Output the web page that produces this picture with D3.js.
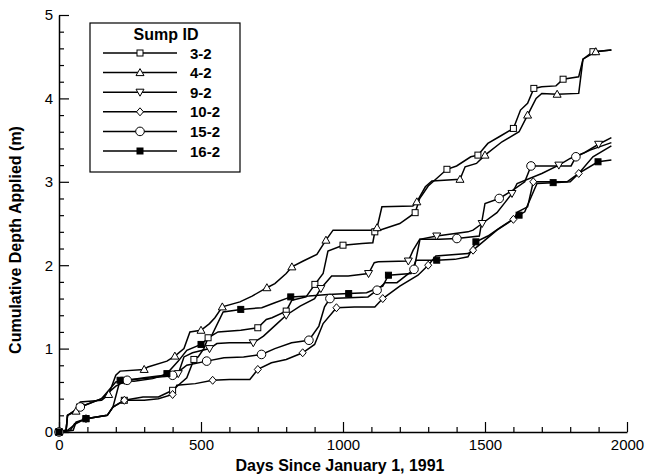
<!DOCTYPE html>
<html><head><meta charset="utf-8">
<script src="https://cdn.jsdelivr.net/npm/d3@7"></script>
<style>body{margin:0;background:#fff}svg{display:block}text{font-family:"Liberation Sans",Arial,sans-serif}</style>
</head><body><svg id="c" width="645" height="475"></svg>
<script>
const seriesNames = ["3-2","4-2","9-2","10-2","15-2","16-2"];
const markerTypes = ["square","triangle","triangleDown","diamond","circle","filledSquare"];
const xTicks = [0,500,1000,1500,2000];
const yTicks = [0,1,2,3,4,5];
const s32 = [[0,0],[40,0.02],[55,0.1],[95,0.16],[170,0.2],[190,0.3],[230,0.38],[296,0.42],[350,0.42],[400,0.5],[420,0.56],[450,0.65],[475,0.87],[490,0.9],[510,1.0],[525,1.13],[560,1.2],[640,1.22],[700,1.25],[730,1.35],[750,1.37],[800,1.45],[820,1.58],[870,1.62],[901,1.77],[930,1.9],[947,2.17],[1000,2.24],[1067,2.26],[1105,2.27],[1112,2.4],[1155,2.45],[1200,2.5],[1254,2.63],[1270,2.8],[1300,2.95],[1366,3.15],[1400,3.19],[1450,3.3],[1475,3.32],[1510,3.46],[1550,3.54],[1600,3.64],[1625,3.86],[1650,3.94],[1672,4.12],[1700,4.14],[1750,4.15],[1775,4.23],[1830,4.26],[1845,4.47],[1880,4.56],[1945,4.58]];
const s42 = [[0,0],[25,0.02],[30,0.2],[60,0.25],[75,0.36],[150,0.38],[175,0.45],[200,0.68],[215,0.73],[300,0.75],[313,0.78],[380,0.85],[408,0.91],[440,1.0],[461,1.2],[500,1.22],[530,1.3],[549,1.37],[575,1.5],[637,1.56],[680,1.63],[732,1.73],[760,1.78],[800,1.9],[820,1.98],[860,2.05],[908,2.13],[940,2.3],[965,2.42],[1098,2.42],[1120,2.45],[1137,2.70],[1246,2.71],[1260,2.76],[1290,2.94],[1313,3.01],[1412,3.03],[1430,3.18],[1470,3.22],[1500,3.32],[1560,3.48],[1620,3.6],[1650,3.8],[1680,4.0],[1700,4.06],[1754,4.05],[1830,4.06],[1845,4.47],[1890,4.56],[1945,4.58]];
const s92 = [[0,0],[25,0.02],[30,0.2],[75,0.3],[150,0.4],[200,0.6],[230,0.62],[330,0.65],[387,0.67],[420,0.7],[440,0.9],[470,0.95],[530,1.0],[556,1.06],[600,1.07],[684,1.07],[720,1.15],[768,1.3],[800,1.4],[849,1.51],[900,1.6],[922,1.72],[960,1.87],[1018,1.87],[1090,1.9],[1110,2.03],[1124,2.04],[1230,2.05],[1247,2.18],[1270,2.31],[1330,2.35],[1440,2.4],[1458,2.42],[1490,2.5],[1542,2.63],[1570,2.75],[1595,2.86],[1613,2.98],[1700,3.1],[1760,3.2],[1800,3.28],[1850,3.35],[1900,3.45],[1945,3.53]];
const s102 = [[0,0],[50,0.02],[60,0.12],[95,0.16],[170,0.2],[190,0.3],[230,0.38],[300,0.38],[350,0.4],[400,0.45],[415,0.56],[480,0.58],[541,0.62],[600,0.63],[672,0.63],[700,0.75],[748,0.83],[800,0.87],[858,0.95],[900,1.05],[930,1.3],[977,1.49],[1040,1.5],[1112,1.5],[1140,1.6],[1200,1.75],[1264,1.88],[1300,2.0],[1327,2.11],[1440,2.14],[1458,2.18],[1500,2.3],[1542,2.42],[1600,2.55],[1616,2.64],[1650,2.7],[1670,3.0],[1730,3.0],[1789,3.0],[1830,3.1],[1880,3.3],[1945,3.43]];
const s152 = [[0,0],[25,0.02],[30,0.2],[75,0.3],[150,0.4],[200,0.55],[240,0.62],[300,0.65],[349,0.67],[400,0.68],[420,0.72],[450,0.8],[520,0.85],[581,0.89],[650,0.9],[713,0.93],[760,1.0],[819,1.07],[880,1.1],[915,1.27],[935,1.5],[954,1.6],[1020,1.61],[1088,1.62],[1120,1.7],[1148,1.79],[1190,1.79],[1250,1.95],[1271,2.31],[1340,2.31],[1401,2.32],[1480,2.35],[1500,2.74],[1550,2.8],[1598,2.9],[1640,3.0],[1662,3.19],[1740,3.19],[1803,3.19],[1820,3.3],[1870,3.38],[1945,3.47]];
const s162 = [[0,0],[30,0.02],[60,0.1],[95,0.16],[170,0.2],[190,0.3],[215,0.62],[264,0.61],[330,0.64],[380,0.7],[420,0.85],[450,0.98],[500,1.05],[538,1.16],[578,1.44],[640,1.47],[714,1.49],[760,1.55],[816,1.62],[880,1.63],[947,1.65],[1020,1.66],[1083,1.67],[1140,1.75],[1160,1.88],[1240,1.9],[1257,2.06],[1330,2.06],[1394,2.07],[1440,2.1],[1468,2.28],[1510,2.35],[1553,2.45],[1620,2.6],[1640,2.64],[1683,2.98],[1740,2.99],[1800,3.0],[1830,3.1],[1898,3.24],[1945,3.26]];
const allSeries = [s32,s42,s92,s102,s152,s162];

const svg = d3.select("#c");
const x = d3.scaleLinear().domain([0,2000]).range([59,627]);
const y = d3.scaleLinear().domain([0,5]).range([432,15]);

// axes
const gx = svg.append("g").attr("transform","translate(0,432)");
gx.call(d3.axisBottom(x).tickValues(d3.range(0,2001,100)).tickSize(0).tickFormat(""));
gx.select(".domain").attr("stroke","#000").attr("stroke-width",1.5);
gx.selectAll(".tick line").remove();
gx.selectAll(".tick").append("line").attr("y1",0).attr("y2",d=>d%500===0?-10:-5).attr("stroke","#000").attr("stroke-width",1.2);
const gxl = svg.append("g").attr("transform","translate(0,432)");
gxl.call(d3.axisBottom(x).tickValues(xTicks).tickSize(0).tickPadding(5).tickFormat(d3.format("d")));
gxl.select(".domain").remove();
gxl.selectAll("text").attr("font-size",15).attr("fill","#000").attr("dy","0.85em");

const gy = svg.append("g").attr("transform","translate(59,0)");
gy.call(d3.axisLeft(y).tickValues(d3.range(0,26).map(i=>i/5)).tickSize(0).tickFormat(""));
gy.select(".domain").attr("stroke","#000").attr("stroke-width",1.5);
gy.selectAll(".tick line").remove();
gy.selectAll(".tick").append("line").attr("x1",0).attr("x2",(d,i)=>i%5===0?10:5).attr("stroke","#000").attr("stroke-width",1.2);
const gyl = svg.append("g").attr("transform","translate(59,0)");
gyl.call(d3.axisLeft(y).tickValues(yTicks).tickSize(0).tickPadding(6).tickFormat(d3.format("d")));
gyl.select(".domain").remove();
gyl.selectAll("text").attr("font-size",15).attr("fill","#000");

svg.append("text").attr("x",340).attr("y",471).attr("text-anchor","middle")
  .attr("font-size",16).attr("font-weight","bold").text("Days Since January 1, 1991");
svg.append("text").attr("transform","translate(21,240) rotate(-90)").attr("text-anchor","middle")
  .attr("font-size",16).attr("font-weight","bold").text("Cumulative Depth Applied (m)");

function drawMarker(g, type, cx, cy){
  const s = 3;
  if(type==="square"||type==="filledSquare"){
    g.append("rect").attr("x",cx-s).attr("y",cy-s).attr("width",2*s).attr("height",2*s)
     .attr("fill",type==="filledSquare"?"#000":"#fff").attr("stroke","#000").attr("stroke-width",1);
  } else if(type==="circle"){
    g.append("circle").attr("cx",cx).attr("cy",cy).attr("r",4.3).attr("fill","#fff").attr("stroke","#000").attr("stroke-width",1);
  } else if(type==="triangle"){
    g.append("path").attr("d",`M${cx},${cy-4}L${cx+4},${cy+3}L${cx-4},${cy+3}Z`).attr("fill","#fff").attr("stroke","#000").attr("stroke-width",1);
  } else if(type==="triangleDown"){
    g.append("path").attr("d",`M${cx},${cy+4}L${cx+4},${cy-3}L${cx-4},${cy-3}Z`).attr("fill","#fff").attr("stroke","#000").attr("stroke-width",1);
  } else if(type==="diamond"){
    g.append("path").attr("d",`M${cx},${cy-4}L${cx+3.5},${cy}L${cx},${cy+4}L${cx-3.5},${cy}Z`).attr("fill","#fff").attr("stroke","#000").attr("stroke-width",1);
  }
}

const line = d3.line().x(d=>x(d[0])).y(d=>y(d[1]));
const plot = svg.append("g");
allSeries.forEach((s,i)=>{
  plot.append("path").datum(s).attr("d",line).attr("fill","none").attr("stroke","#000").attr("stroke-width",1.5);
});
allSeries.forEach((s,i)=>{
  const g = plot.append("g");
  s.forEach((p,j)=>{ if(j%3===0 && j>0 && j<s.length-1) drawMarker(g, markerTypes[i], x(p[0]), y(p[1])); });
  drawMarker(g, markerTypes[i], x(s[0][0]), y(s[0][1]));
});

// legend
const lg = svg.append("g");
lg.append("rect").attr("x",90).attr("y",23).attr("width",150).attr("height",149).attr("fill","#fff").attr("stroke","#000").attr("stroke-width",1.2);
lg.append("text").attr("x",166).attr("y",40).attr("text-anchor","middle").attr("font-size",16).attr("font-weight","bold").text("Sump ID");
seriesNames.forEach((n,i)=>{
  const yy = 53 + i*19.6;
  lg.append("line").attr("x1",103).attr("x2",177).attr("y1",yy).attr("y2",yy).attr("stroke","#000").attr("stroke-width",1.5);
  drawMarker(lg, markerTypes[i], 140, yy);
  lg.append("text").attr("x",190).attr("y",yy+5.5).attr("font-size",15).attr("font-weight","bold").text(n);
});
</script></body></html>
